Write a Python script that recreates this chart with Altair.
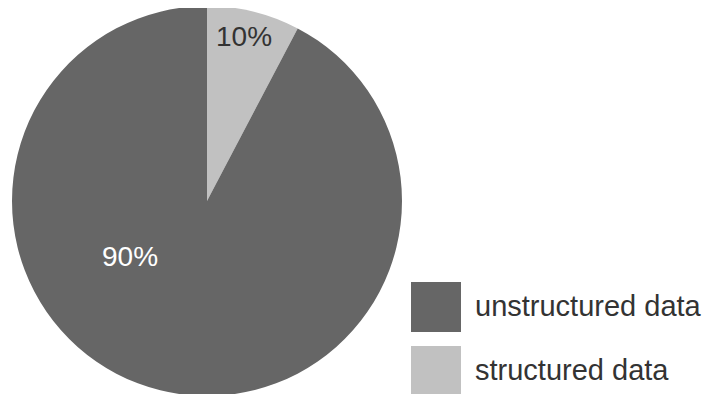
import altair as alt
import pandas as pd

# Values
categories = ["structured data", "unstructured data"]
drawn_share = [7.7, 92.3]          # wedge sizes as drawn in the reference
labels = ["10%", "90%"]            # printed labels
stack_rank = [0, 1]
legend_order = ["unstructured data", "structured data"]
colors = ["#666666", "#c1c1c1"]

df = pd.DataFrame({
    "category": categories,
    "share": drawn_share,
    "label": labels,
    "rank": stack_rank,
})

color = alt.Color(
    "category:N",
    scale=alt.Scale(domain=legend_order, range=colors),
    legend=alt.Legend(
        title=None,
        orient="none",
        legendX=403,
        legendY=274,
        symbolType="square",
        symbolSize=2500,
        symbolStrokeWidth=0,
        symbolOpacity=1,
        labelFontSize=29,
        labelFont="Liberation Sans",
        labelColor="#333333",
        labelOffset=14,
        labelLimit=0,
        rowPadding=14,
        padding=0,
    ),
)

pie = alt.Chart(df).mark_arc(radius=195, stroke=None).encode(
    theta=alt.Theta("share:Q", stack=True),
    color=color,
    order=alt.Order("rank:Q"),
    x=alt.value(199),
    y=alt.value(193),
)

t10 = alt.Chart(df[df["label"] == "10%"]).mark_text(
    fontSize=28, font="Liberation Sans", color="#333333", baseline="middle", align="center"
).encode(text="label:N", x=alt.value(236), y=alt.value(30))

t90 = alt.Chart(df[df["label"] == "90%"]).mark_text(
    fontSize=28, font="Liberation Sans", color="#ffffff", baseline="middle", align="center"
).encode(text="label:N", x=alt.value(122), y=alt.value(250))

chart = alt.layer(pie, t10, t90).properties(
    width=697,
    height=386,
    autosize=alt.AutoSizeParams(type="none"),
    padding=0,
    background="#ffffff",
).configure_view(stroke=None)

chart.save("out.html", embed_options={"renderer": "svg", "actions": False})
